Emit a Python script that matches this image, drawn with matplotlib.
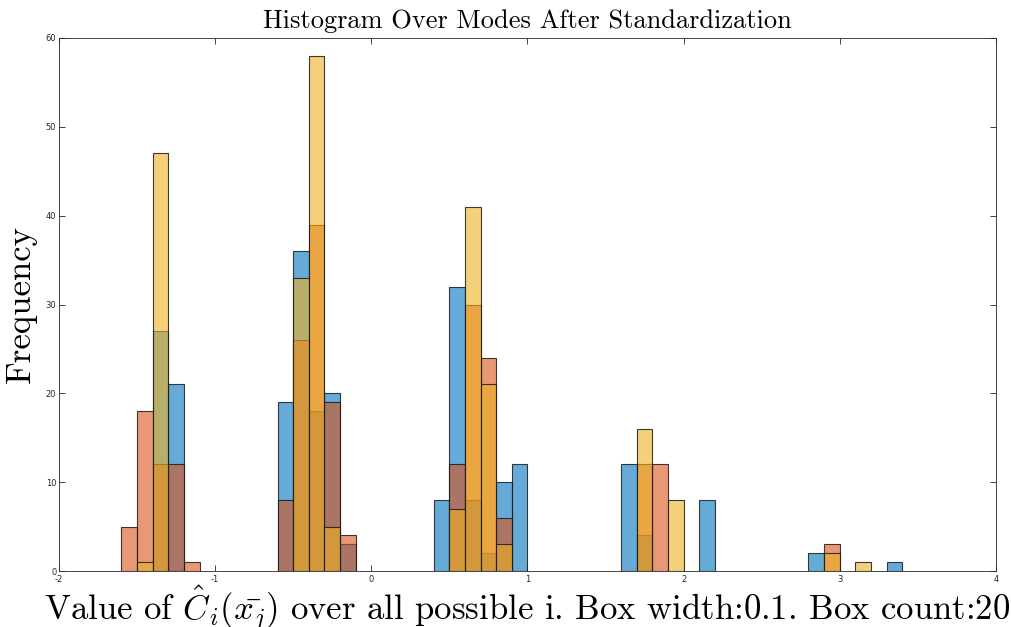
import matplotlib
matplotlib.use("Agg")
import matplotlib.pyplot as plt

# bin left edges (width 0.1) and counts for each series
bin_width = 0.1

blue_left = [-1.4, -1.3, -0.6, -0.5, -0.4, -0.3, -0.2,
             0.4, 0.5, 0.6, 0.7, 0.8, 0.9, 1.6, 1.7, 2.1, 2.8, 3.3]
blue_count = [27, 21, 19, 36, 18, 20, 3,
              8, 32, 8, 2, 10, 12, 12, 4, 8, 2, 1]

orange_left = [-1.6, -1.5, -1.4, -1.3, -1.2, -0.6, -0.5, -0.4, -0.3, -0.2,
               0.5, 0.6, 0.7, 0.8, 1.7, 1.8, 2.9]
orange_count = [5, 18, 12, 12, 1, 8, 26, 39, 19, 4,
                12, 30, 24, 6, 12, 12, 3]

yellow_left = [-1.5, -1.4, -0.5, -0.4, -0.3, 0.5, 0.6, 0.7, 0.8,
               1.7, 1.9, 2.9, 3.1]
yellow_count = [1, 47, 33, 58, 5, 7, 41, 21, 3,
                16, 8, 2, 1]

series = [
    (blue_left, blue_count, (0.0, 0.447, 0.741)),
    (orange_left, orange_count, (0.85, 0.325, 0.098)),
    (yellow_left, yellow_count, (0.929, 0.694, 0.125)),
]

plt.rcParams['mathtext.fontset'] = 'cm'
plt.rcParams['axes.unicode_minus'] = False

fig = plt.figure(figsize=(10.11, 6.27), dpi=100)
ax = fig.add_axes([0.0584, 0.0893, 0.9266, 0.8501])

for left, count, col in series:
    ax.bar(left, count, width=bin_width, align='edge',
           color=col + (0.6,), edgecolor=(0.1, 0.1, 0.1, 0.85), linewidth=0.8)

ax.set_xlim(-2, 4)
ax.set_ylim(0, 60)
ax.set_xticks(range(-2, 5))
ax.set_yticks(range(0, 61, 10))
ax.tick_params(direction='in', length=4, width=0.6, labelsize=6,
               top=True, right=True, colors='#262626', pad=2)
ax.tick_params(axis='x', pad=3)
for s in ax.spines.values():
    s.set_color('#262626')
    s.set_linewidth(0.6)

ax.set_title('Histogram Over Modes After Standardization',
             fontfamily='cmr10', fontsize=19, pad=7)
ax.set_xlabel(r'Value of $\hat{C}_i(\bar{x_j})$ over all possible i. Box width:0.1. Box count:20',
              fontfamily='cmr10', fontsize=25, labelpad=-1)
ax.set_ylabel('Frequency', fontfamily='cmr10', fontsize=25, labelpad=6)

fig.savefig('out.png', dpi=100)
